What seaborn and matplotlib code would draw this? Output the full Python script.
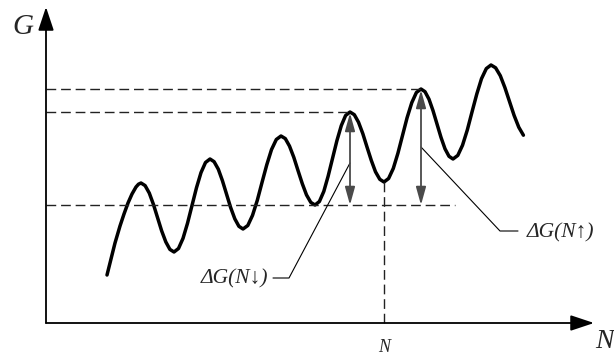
import numpy as np
import pandas as pd
import matplotlib
matplotlib.use("Agg")
import matplotlib.pyplot as plt
import seaborn as sns

# curve G(N) (origin at the axis corner)
curve_x = [61, 65, 69, 74, 78, 82, 86, 90, 92.5, 95,
           99.1, 103.3, 107.4, 111.5, 115.6, 119.8, 123.9, 128,
           132.5, 137, 141.5, 146, 150.5, 155, 159.5, 164,
           168.1, 172.3, 176.4, 180.5, 184.6, 188.8, 192.9, 197,
           201.8, 206.5, 211.3, 216, 220.8, 225.5, 230.3, 235,
           239.3, 243.5, 247.8, 252, 256.3, 260.5, 264.8, 269,
           273.4, 277.8, 282.1, 286.5, 290.9, 295.3, 299.6, 304,
           308.3, 312.5, 316.8, 321, 325.3, 329.5, 333.8, 338,
           342.6, 347.3, 351.9, 356.5, 361.1, 365.8, 370.4, 375,
           379, 383, 387, 391, 395, 399, 403, 407,
           411.8, 416.5, 421.3, 426, 430.8, 435.5, 440.3, 445,
           449.6, 454.3, 458.9, 463.5, 468.1, 472.8, 477.4]
curve_y = [48, 64, 80, 97, 109, 120, 129, 136, 138.8, 140,
           137.4, 129.9, 118.7, 105.5, 92.3, 81.1, 73.6, 71,
           74.5, 84.6, 99.7, 117.5, 135.3, 150.4, 160.5, 164,
           161.3, 153.8, 142.4, 129, 115.6, 104.2, 96.7, 94,
           97.5, 107.6, 122.7, 140.5, 158.3, 173.4, 183.5, 187,
           184.4, 176.9, 165.7, 152.5, 139.3, 128.1, 120.6, 118,
           121.5, 131.6, 146.7, 164.5, 182.3, 197.4, 207.5, 211,
           208.3, 200.8, 189.4, 176, 162.6, 151.2, 143.7, 141,
           144.5, 154.6, 169.7, 187.5, 205.3, 220.4, 230.5, 234,
           231.3, 223.8, 212.4, 199, 185.6, 174.2, 166.7, 164,
           167.6, 177.7, 193.0, 211, 229.0, 244.3, 254.4, 258,
           255.2, 247.3, 235.4, 221.5, 207.6, 195.7, 187.8]

# reference levels
g_low = 118      # trough used as base
g_peak_a = 211   # peak for N-down
g_peak_b = 234   # peak for N-up
n_mark = 338     # the N position (trough)
g_at_n = 141
x_peak_a = 304
x_peak_b = 375

df = pd.DataFrame({"N": curve_x, "G": curve_y})

sns.set_theme(style="white")
serif = ["Liberation Serif", "DejaVu Serif"]

fig = plt.figure(figsize=(6.14, 3.59), dpi=100)
ax = fig.add_axes([0, 0, 1, 1])
ax.set_xlim(-46, 568)
ax.set_ylim(-36, 323)
ax.axis("off")

sns.lineplot(data=df, x="N", y="G", sort=False, estimator=None,
             color="black", lw=2.5, ax=ax)

# axes with arrows
head = "-|>,head_length=1.2,head_width=0.4"
ax.annotate("", xy=(0, 316), xytext=(0, 0),
            arrowprops=dict(arrowstyle=head, color="black", lw=1.3,
                            shrinkA=0, shrinkB=0))
ax.annotate("", xy=(548, 0), xytext=(0, 0),
            arrowprops=dict(arrowstyle=head, color="black", lw=1.3,
                            shrinkA=0, shrinkB=0))

# dashed guide lines
dash = dict(color="#222222", lw=1.0, ls=(0, (7, 3.5)))
ax.plot([0, x_peak_b], [g_peak_b, g_peak_b], **dash)
ax.plot([0, x_peak_a], [g_peak_a, g_peak_a], **dash)
ax.plot([0, 409], [g_low, g_low], **dash)
ax.plot([n_mark, n_mark], [0, g_at_n], **dash)

# double arrows
darr = dict(arrowstyle="<|-|>,head_length=0.9,head_width=0.25",
            color="#4a4a4a", lw=1.3, shrinkA=0, shrinkB=0)
ax.annotate("", xy=(x_peak_a, g_peak_a - 1), xytext=(x_peak_a, g_low), arrowprops=darr)
ax.annotate("", xy=(x_peak_b, g_peak_b - 1), xytext=(x_peak_b, g_low), arrowprops=darr)

# leader lines
ax.plot([304, 243, 227], [160, 45, 45], color="black", lw=0.8)
ax.plot([375, 454, 472], [176, 92, 92], color="black", lw=0.8)

# labels
ax.text(-23, 296, "G", fontsize=21, style="italic", family=serif,
        ha="center", va="center")
ax.text(558, -19, "N", fontsize=20, style="italic", family=serif,
        ha="center", va="center")
ax.text(n_mark, -25, "N", fontsize=13, style="italic", family=serif,
        ha="center", va="center")
ax.text(222, 44, "ΔG(N↓)", fontsize=15.5, style="italic", family=serif,
        ha="right", va="center")
ax.text(481, 90, "ΔG(N↑)", fontsize=15.5, style="italic", family=serif,
        ha="left", va="center")

plt.savefig("out.png", dpi=100)
